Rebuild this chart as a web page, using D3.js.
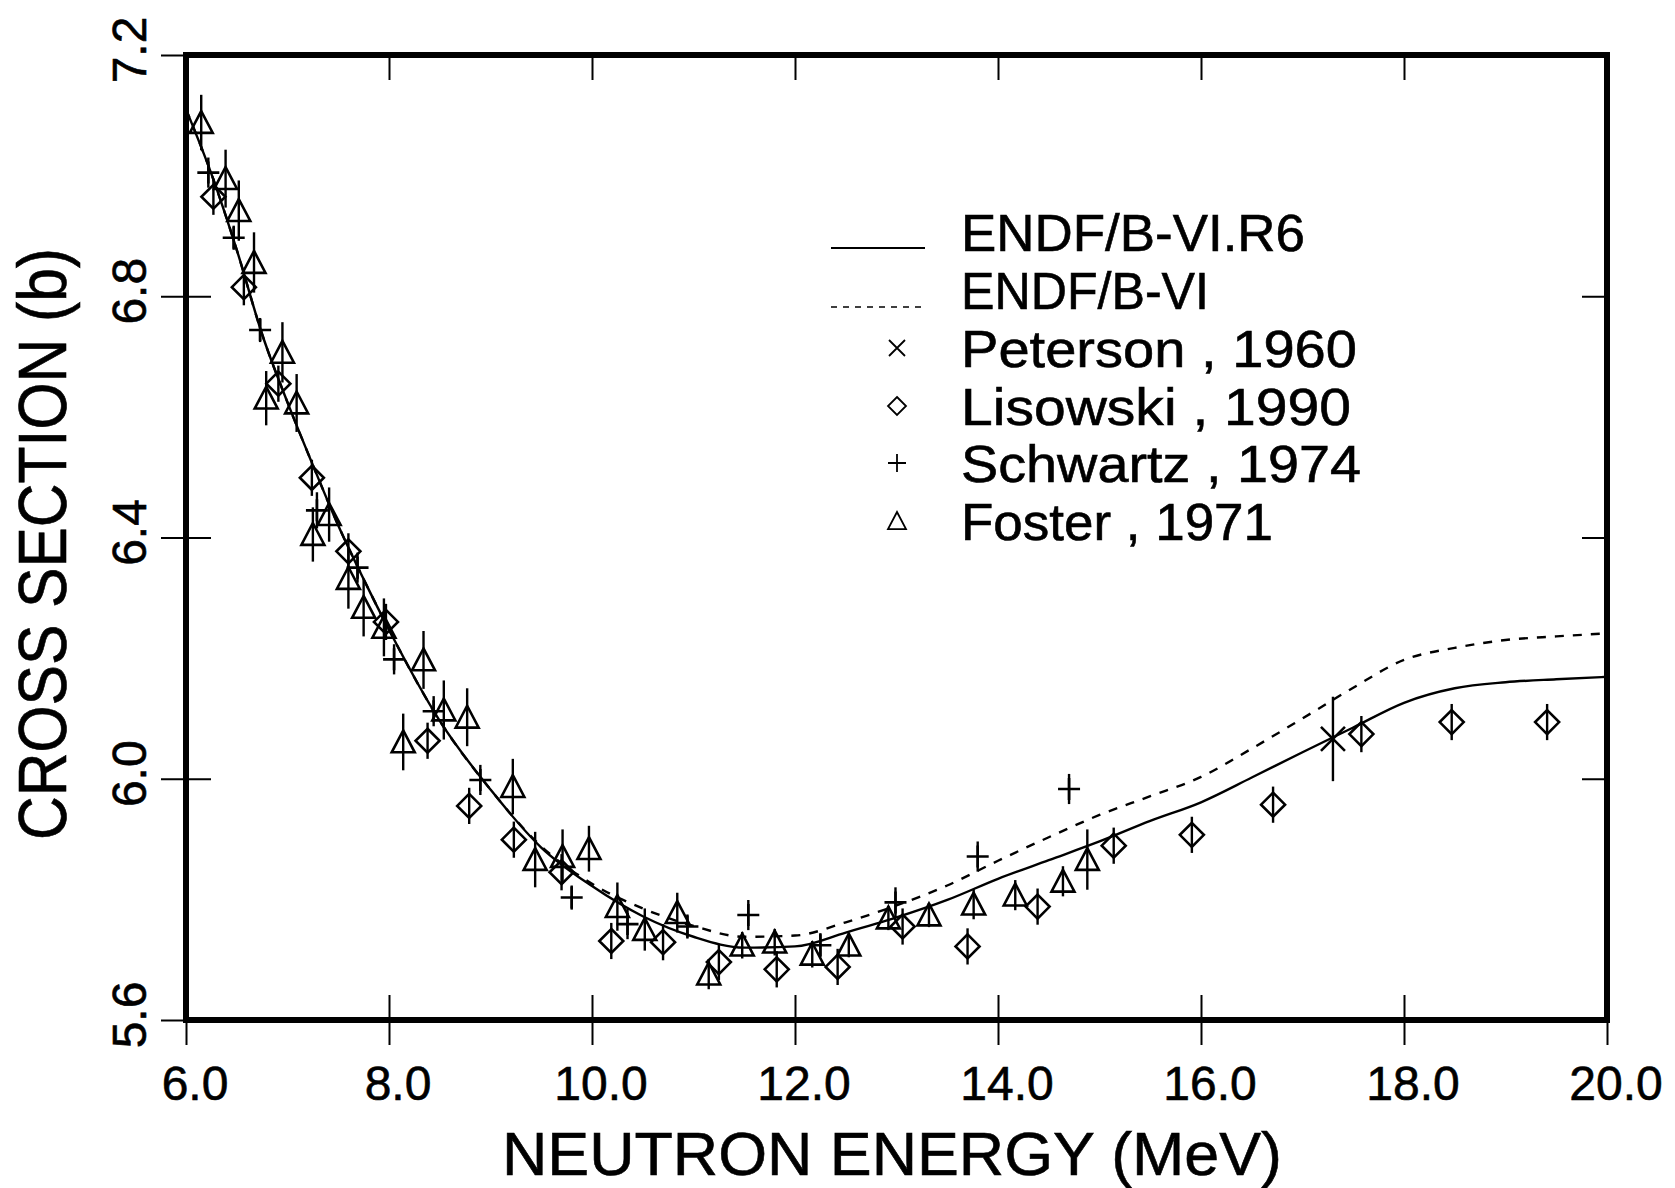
<!DOCTYPE html>
<html>
<head>
<meta charset="utf-8">
<script src="https://cdn.jsdelivr.net/npm/d3@7"></script>
<style>
  body { margin: 0; background: #fff; }
  text { font-family: "Liberation Sans", Arial, Helvetica, sans-serif; fill: #000; stroke: #000; stroke-width: 0.6; }
</style>
</head>
<body>
<div id="chart"></div>
<script>
// evaluated curves (energy grid in MeV, cross section in b)
var energyGrid = [6.0, 6.25, 6.5, 6.75, 7.0, 7.25, 7.5, 7.75, 8.0, 8.5, 9.0, 9.5, 10.0, 10.5, 11.0, 11.5,
  12.0, 12.5, 13.0, 13.5, 14.0, 14.5, 15.0, 15.5, 16.0, 16.5, 17.0, 17.5, 18.0, 18.5, 19.0, 19.5, 20.0];
var endfR6 = [7.11, 7.003, 6.877, 6.737, 6.624, 6.52, 6.42, 6.331, 6.247, 6.096, 5.982, 5.886, 5.822, 5.772,
  5.738, 5.720, 5.722, 5.745, 5.770, 5.799, 5.834, 5.865, 5.896, 5.930, 5.961, 6.002, 6.044, 6.085, 6.126,
  6.150, 6.160, 6.165, 6.169];
var endfVI = [7.11, 7.003, 6.877, 6.737, 6.624, 6.52, 6.42, 6.331, 6.247, 6.096, 5.982, 5.888, 5.826, 5.785,
  5.756, 5.738, 5.740, 5.762, 5.790, 5.823, 5.864, 5.903, 5.940, 5.971, 6.003, 6.050, 6.100, 6.151, 6.197,
  6.217, 6.230, 6.236, 6.241];

// Peterson, 1960
var petersonE = [17.30];
var petersonXS = [6.066];
var petersonErr = [0.07];

// Lisowski, 1990
var lisowskiE = [6.27, 6.57, 6.91, 7.24, 7.60, 7.97, 8.38, 8.79, 9.23, 9.70, 10.19, 10.70, 11.25, 11.82,
  12.42, 13.06, 13.70, 14.39, 15.14, 15.91, 16.71, 17.58, 18.47, 19.41];
var lisowskiXS = [6.965, 6.815, 6.655, 6.499, 6.377, 6.260, 6.063, 5.955, 5.899, 5.845, 5.731, 5.729, 5.696,
  5.684, 5.688, 5.755, 5.722, 5.788, 5.889, 5.907, 5.957, 6.074, 6.094, 6.094];
var lisowskiErr = [0.03, 0.03, 0.03, 0.03, 0.03, 0.03, 0.03, 0.03, 0.03, 0.03, 0.03, 0.03, 0.03, 0.03,
  0.03, 0.03, 0.03, 0.03, 0.03, 0.03, 0.03, 0.03, 0.03, 0.03];

// Schwartz, 1974
var schwartzE = [6.22, 6.47, 6.73, 7.29, 7.69, 8.05, 8.44, 8.90, 9.80, 10.35, 10.94, 11.54, 12.25, 12.99,
  13.80, 14.70];
var schwartzXS = [7.005, 6.897, 6.744, 6.445, 6.350, 6.198, 6.112, 5.998, 5.803, 5.759, 5.755, 5.774, 5.724,
  5.795, 5.871, 5.983];
var schwartzErr = [0.025, 0.02, 0.02, 0.03, 0.025, 0.025, 0.025, 0.025, 0.02, 0.025, 0.02, 0.025, 0.02,
  0.025, 0.025, 0.025];

// Foster, 1971
var fosterE = [6.15, 6.39, 6.52, 6.67, 6.79, 6.95, 7.09, 7.25, 7.41, 7.60, 7.75, 7.95, 8.14, 8.34, 8.54,
  8.77, 9.22, 9.44, 9.71, 9.97, 10.25, 10.52, 10.84, 11.15, 11.48, 11.80, 12.17, 12.53, 12.92, 13.32, 13.76,
  14.17, 14.64, 14.88];
var fosterXS = [7.088, 6.995, 6.942, 6.856, 6.631, 6.707, 6.623, 6.405, 6.438, 6.332, 6.284, 6.251, 6.061,
  6.197, 6.114, 6.102, 5.987, 5.866, 5.871, 5.884, 5.788, 5.750, 5.778, 5.676, 5.724, 5.729, 5.709, 5.724,
  5.769, 5.774, 5.792, 5.807, 5.830, 5.866];
var fosterErr = [0.046, 0.048, 0.05, 0.05, 0.045, 0.05, 0.048, 0.045, 0.045, 0.05, 0.048, 0.048, 0.047, 0.048,
  0.049, 0.048, 0.046, 0.046, 0.045, 0.038, 0.04, 0.035, 0.033, 0.025, 0.022, 0.022, 0.022, 0.02, 0.02, 0.02,
  0.025, 0.025, 0.025, 0.05];

var xTicks = [6, 8, 10, 12, 14, 16, 18, 20];
var yTicks = [5.6, 6.0, 6.4, 6.8, 7.2];
var legendLabels = ["ENDF/B-VI.R6", "ENDF/B-VI", "Peterson , 1960", "Lisowski , 1990", "Schwartz , 1974", "Foster , 1971"];
var legendWidths = [344, 248, 396, 390, 400, 312];

var width = 1675, height = 1188;
var plotL = 186, plotR = 1607, plotT = 55, plotB = 1020;

var svg = d3.select("#chart").append("svg")
  .attr("width", width)
  .attr("height", height);

var x = d3.scaleLinear().domain([6, 20]).range([plotL, plotR]);
var y = d3.scaleLinear().domain([5.6, 7.2]).range([plotB, plotT]);

// ticks: bottom and left cross the frame, top and right only inside
function tickAxis(axis, tx, ty) {
  var g = svg.append("g")
    .attr("transform", "translate(" + tx + "," + ty + ")")
    .call(axis);
  g.select(".domain").remove();
  g.selectAll("line").attr("stroke", "#000").attr("stroke-width", 2);
  return g;
}
tickAxis(d3.axisBottom(x).tickValues(xTicks).tickSize(25).tickFormat(""), 0, plotB);
tickAxis(d3.axisTop(x).tickValues(xTicks).tickSize(25).tickFormat(""), 0, plotB);
tickAxis(d3.axisBottom(x).tickValues(xTicks).tickSize(25).tickFormat(""), 0, plotT);
tickAxis(d3.axisLeft(y).tickValues(yTicks).tickSize(25).tickFormat(""), plotL, 0);
tickAxis(d3.axisRight(y).tickValues(yTicks).tickSize(25).tickFormat(""), plotL, 0);
tickAxis(d3.axisLeft(y).tickValues(yTicks).tickSize(25).tickFormat(""), plotR, 0);

// frame
svg.append("rect")
  .attr("x", plotL).attr("y", plotT)
  .attr("width", plotR - plotL).attr("height", plotB - plotT)
  .attr("fill", "none").attr("stroke", "#000").attr("stroke-width", 6);

// tick labels
svg.selectAll(".xlab").data(xTicks).enter().append("text")
  .attr("class", "xlab")
  .attr("x", function(d) { return x(d) + 9; })
  .attr("y", 1100)
  .attr("text-anchor", "middle")
  .attr("font-size", 48)
  .text(function(d) { return d.toFixed(1); });

svg.selectAll(".ylab").data(yTicks).enter().append("text")
  .attr("class", "ylab")
  .attr("transform", function(d) { return "translate(146," + (y(d) - 5) + ") rotate(-90)"; })
  .attr("text-anchor", "middle")
  .attr("font-size", 48)
  .text(function(d) { return d.toFixed(1); });

// axis titles
svg.append("text")
  .attr("x", 502).attr("y", 1175)
  .attr("font-size", 62)
  .attr("textLength", 780).attr("lengthAdjust", "spacingAndGlyphs")
  .text("NEUTRON ENERGY (MeV)");

svg.append("text")
  .attr("transform", "translate(66,840) rotate(-90)")
  .attr("font-size", 68)
  .attr("textLength", 592).attr("lengthAdjust", "spacingAndGlyphs")
  .text("CROSS SECTION (b)");

// curves
var line = d3.line()
  .x(function(d) { return x(d[0]); })
  .y(function(d) { return y(d[1]); })
  .curve(d3.curveMonotoneX);

svg.append("path")
  .datum(d3.zip(energyGrid, endfVI))
  .attr("d", line)
  .attr("fill", "none").attr("stroke", "#000").attr("stroke-width", 2.4)
  .attr("stroke-dasharray", "9,9");

svg.append("path")
  .datum(d3.zip(energyGrid, endfR6))
  .attr("d", line)
  .attr("fill", "none").attr("stroke", "#000").attr("stroke-width", 2.4);

// markers
function triPath(s) {
  return "M0," + (-s) + "L" + s + "," + s * 0.9 + "L" + (-s) + "," + s * 0.9 + "Z";
}
function diaPath(s) {
  return "M0," + (-s) + "L" + s + ",0L0," + s + "L" + (-s) + ",0Z";
}
function plusPath(s, v) {
  return "M" + (-s) + ",0L" + s + ",0M0," + (-v) + "L0," + v;
}
function crossPath(s) {
  return "M" + (-s) + "," + (-s) + "L" + s + "," + s + "M" + (-s) + "," + s + "L" + s + "," + (-s);
}

function drawSeries(E, XS, ERR, shape) {
  var data = d3.zip(E, XS, ERR);
  var g = svg.append("g");
  g.selectAll(".err").data(data).enter().append("line")
    .attr("x1", function(d) { return x(d[0]); })
    .attr("x2", function(d) { return x(d[0]); })
    .attr("y1", function(d) { return y(d[1] - d[2]); })
    .attr("y2", function(d) { return y(d[1] + d[2]); })
    .attr("stroke", "#000").attr("stroke-width", 2.4);
  g.selectAll(".mk").data(data).enter().append("path")
    .attr("transform", function(d) { return "translate(" + x(d[0]) + "," + y(d[1]) + ")"; })
    .attr("d", shape)
    .attr("fill", "none").attr("stroke", "#000").attr("stroke-width", 2.6)
    .attr("stroke-linejoin", "miter");
}

drawSeries(lisowskiE, lisowskiXS, lisowskiErr, diaPath(12));
drawSeries(fosterE, fosterXS, fosterErr, triPath(11.5));
drawSeries(schwartzE, schwartzXS, schwartzErr, plusPath(11, 11));
drawSeries(petersonE, petersonXS, petersonErr, crossPath(12));

// legend
var lg = svg.append("g");
var rowY = [251, 309, 367, 425, 482, 540];
lg.selectAll("text").data(legendLabels).enter().append("text")
  .attr("x", 961)
  .attr("y", function(d, i) { return rowY[i]; })
  .attr("font-size", 52)
  .attr("textLength", function(d, i) { return legendWidths[i]; })
  .attr("lengthAdjust", "spacingAndGlyphs")
  .text(function(d) { return d; });

lg.append("line").attr("x1", 831).attr("x2", 925).attr("y1", 248).attr("y2", 248)
  .attr("stroke", "#000").attr("stroke-width", 2);
lg.append("line").attr("x1", 831).attr("x2", 925).attr("y1", 307).attr("y2", 307)
  .attr("stroke", "#000").attr("stroke-width", 1.6).attr("stroke-dasharray", "6,6");

var legendShapes = [crossPath(8), diaPath(9), plusPath(9, 9), triPath(9)];
lg.selectAll(".sym").data(legendShapes).enter().append("path")
  .attr("transform", function(d, i) { return "translate(897," + (rowY[i + 2] - 19) + ")"; })
  .attr("d", function(d) { return d; })
  .attr("fill", "none").attr("stroke", "#000").attr("stroke-width", 1.8);
</script>
</body>
</html>
